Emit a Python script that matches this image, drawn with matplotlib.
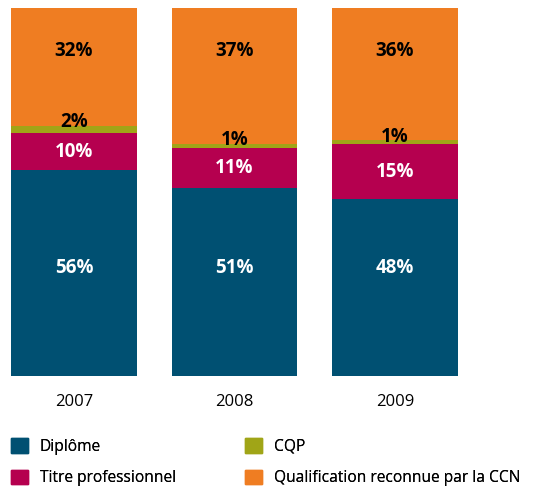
import matplotlib
matplotlib.use("Agg")
import matplotlib.pyplot as plt
from matplotlib.patches import Patch
import numpy as np

plt.rcParams["font.family"] = ["Open Sans", "DejaVu Sans"]

years = ["2007", "2008", "2009"]
diplome = [56, 51, 48]
titre = [10, 11, 15]
cqp = [2, 1, 1]
qualif = [32, 37, 36]

series = ["Diplôme", "Titre professionnel", "CQP", "Qualification reconnue par la CCN"]
colors = ["#005072", "#b5004f", "#a0a517", "#ef7d22"]
text_colors = ["white", "white", "black", "black"]

fig = plt.figure(figsize=(5.54, 4.93), dpi=100)
ax = fig.add_axes([0, 117 / 493, 1, 368 / 493])

x = np.arange(len(years))
width = 0.785
values = [diplome, titre, cqp, qualif]
bottom = np.zeros(len(years))
for name, vals, col, tcol in zip(series, values, colors, text_colors):
    vals = np.array(vals, dtype=float)
    ax.bar(x, vals, width, bottom=bottom, color=col, label=name)
    for xi, b, v in zip(x, bottom, vals):
        if name == "Diplôme":
            y = 29.3
        elif name == "Qualification reconnue par la CCN":
            y = 88.2
        elif name == "CQP":
            y = b + v + 1.0
        else:
            y = b + v / 2
        ax.text(xi, y, f"{int(v)}%", ha="center", va="center",
                color=tcol, fontsize=13.5, fontweight="bold")
    bottom += vals

ax.set_xlim(-74 / 160.5, (554 - 74) / 160.5)
ax.set_ylim(0, 100)
ax.set_xticks(x)
ax.set_xticklabels(years, fontsize=12)
ax.tick_params(axis="x", length=0, pad=13)
ax.set_yticks([])
for s in ax.spines.values():
    s.set_visible(False)

handles = [Patch(color=c) for c in colors]
for i, (left, idx) in enumerate([(11, [0, 1]), (245, [2, 3])]):
    leg = fig.legend([handles[j] for j in idx], [series[j] for j in idx],
                     loc="upper left", bbox_to_anchor=(left / 554, 1 - 438 / 493),
                     frameon=False, fontsize=11.2, borderpad=0, borderaxespad=0,
                     handlelength=1.1, handleheight=1.1, handletextpad=0.75,
                     labelspacing=0.95)
    fig.add_artist(leg)

fig.savefig("out.png", dpi=100)
